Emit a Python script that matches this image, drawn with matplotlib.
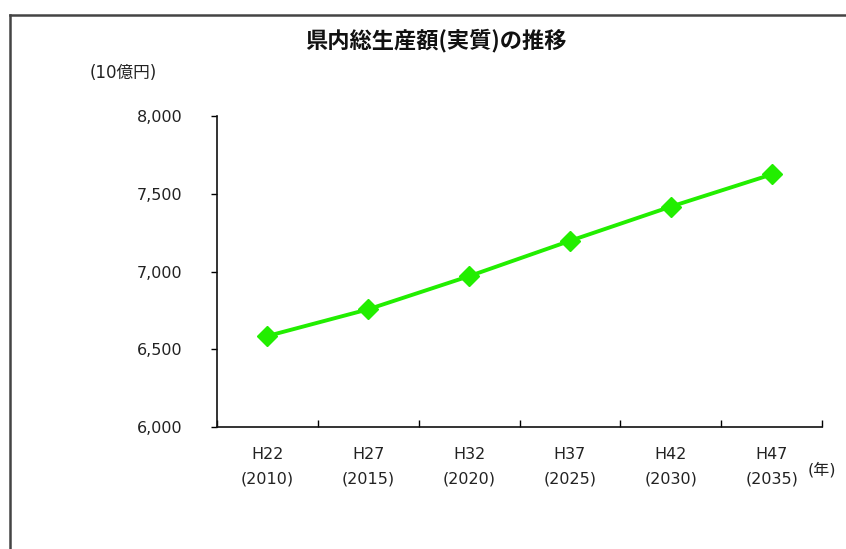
import matplotlib
matplotlib.use("Agg")
import matplotlib.pyplot as plt
from matplotlib.lines import Line2D

plt.rcParams['font.family'] = ['DejaVu Sans', 'Noto Sans CJK JP']

# 県内総生産額(実質) 推計
categories = ["H22\n(2010)", "H27\n(2015)", "H32\n(2020)", "H37\n(2025)", "H42\n(2030)", "H47\n(2035)"]
gdp_real = [6585, 6757, 6970, 7197, 7417, 7624]
y_ticks = [6000, 6500, 7000, 7500, 8000]

W, H = 846, 549
fig = plt.figure(figsize=(W / 100, H / 100), dpi=100)
fig.patch.set_facecolor("white")

# outer frame (top and left edges visible)
fig.add_artist(Line2D([10 / W, 10 / W], [-0.01, 1 - 15 / H], transform=fig.transFigure,
                      color="#444444", lw=1.8))
fig.add_artist(Line2D([10 / W, 1.01], [1 - 15 / H, 1 - 15 / H], transform=fig.transFigure,
                      color="#444444", lw=1.8))

left, right, top, bottom = 217, 822, 116, 427
ax = fig.add_axes([left / W, 1 - bottom / H, (right - left) / W, (bottom - top) / H])

x = list(range(len(categories)))
ax.plot(x, gdp_real, color="#22ee00", lw=2.8, marker="D", markersize=10,
        markerfacecolor="#22ee00", markeredgecolor="#22ee00", zorder=3)

ax.set_xlim(-0.5, len(categories) - 0.5)
ax.set_ylim(6000, 8000)
ax.set_yticks(y_ticks)
ax.set_yticklabels([f"{v:,}" for v in y_ticks], fontsize=11.5, color="#222222")
ax.tick_params(axis="y", direction="out", length=4, width=1, pad=21)

# category boundaries as inward ticks
ax.set_xticks([i - 0.5 for i in range(len(categories) + 1)])
ax.set_xticklabels([])
ax.tick_params(axis="x", direction="in", length=5, width=1)
for i, lab in enumerate(categories):
    ax.text(i, -0.065, lab, transform=ax.get_xaxis_transform(), ha="center", va="top",
            fontsize=11.5, color="#222222", linespacing=1.75)

for s in ["top", "right"]:
    ax.spines[s].set_visible(False)
for s in ["left", "bottom"]:
    ax.spines[s].set_linewidth(1.2)
    ax.spines[s].set_color("#111111")

fig.text(436 / W, 1 - 41 / H, "県内総生産額(実質)の推移", ha="center", va="center",
         fontsize=16, fontweight="bold", color="#111111",
         family=['Noto Sans CJK JP', 'DejaVu Sans'])
fig.text(123 / W, 1 - 73 / H, "(10億円)", ha="center", va="center",
         fontsize=12, color="#222222")
fig.text(808 / W, 1 - 470 / H, "(年)", ha="left", va="center",
         fontsize=11.5, color="#222222")

fig.savefig("out.png", dpi=100, facecolor="white")
